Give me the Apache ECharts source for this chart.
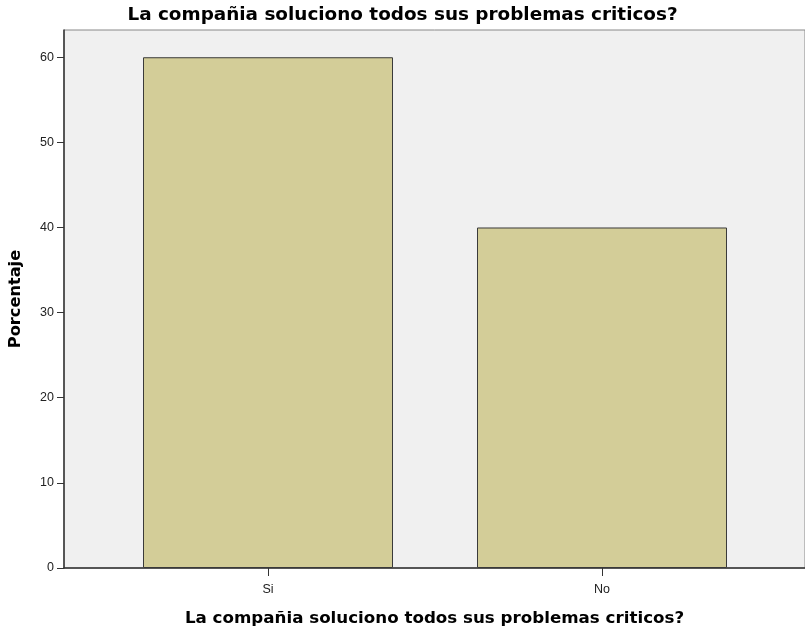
<!DOCTYPE html>
<html>
<head>
<meta charset="utf-8">
<script src="https://cdn.jsdelivr.net/npm/echarts@6/dist/echarts.min.js"></script>
<style>
  html, body { margin: 0; padding: 0; background: #fff; }
  #main { width: 805px; height: 629px; }
</style>
</head>
<body>
<div id="main"></div>
<script>
const categories = ['Si', 'No']
const percentages = [60, 40]
const yTicks = [0, 10, 20, 30, 40, 50, 60]
const titleText = 'La compañia soluciono todos sus problemas criticos?'

const font = '"Liberation Sans", Arial, sans-serif'
const boldFont = '"DejaVu Sans", sans-serif'
const myChart = echarts.init(document.getElementById('main'))
myChart.setOption({
  animation: false,
  title: {
    text: titleText,
    left: 'center',
    top: 1,
    textStyle: { fontFamily: boldFont, fontSize: 18.4, fontWeight: 'bold', color: '#000' }
  },
  grid: [
    {
      left: 64, right: 0, top: 30, bottom: 61,
      show: true, backgroundColor: '#f0f0f0', borderColor: '#888', borderWidth: 1,
      containLabel: false, outerBoundsMode: 'none'
    },
    {
      left: 101, width: 668, top: 30, bottom: 61,
      containLabel: false, outerBoundsMode: 'none'
    }
  ],
  xAxis: [
    {
      gridIndex: 0, type: 'value', min: 0, max: 1,
      axisLine: { show: true, lineStyle: { color: '#333', width: 1.5 } },
      axisTick: { show: false }, axisLabel: { show: false }, splitLine: { show: false },
      name: titleText, nameLocation: 'middle', nameGap: 42,
      nameTextStyle: { fontFamily: boldFont, fontSize: 16.7, fontWeight: 'bold', color: '#000' }
    },
    {
      gridIndex: 1, type: 'category', data: categories,
      axisLine: { show: false },
      axisTick: { show: true, alignWithLabel: true, length: 8, lineStyle: { color: '#333' } },
      axisLabel: { margin: 15, fontFamily: font, fontSize: 12.5, color: '#222' }
    }
  ],
  yAxis: [
    {
      gridIndex: 0, type: 'value', min: 0, max: 63.2,
      axisLine: { show: true, lineStyle: { color: '#333', width: 1.5 } },
      axisTick: { show: true, length: 7, customValues: yTicks, lineStyle: { color: '#333' } },
      axisLabel: { margin: 10, fontFamily: font, fontSize: 12.5, color: '#222', customValues: yTicks },
      splitLine: { show: false },
      name: 'Porcentaje', nameLocation: 'middle', nameGap: 40,
      nameTextStyle: { fontFamily: boldFont, fontSize: 16.2, fontWeight: 'bold', color: '#000' }
    },
    {
      gridIndex: 1, type: 'value', min: 0, max: 63.2, show: false
    }
  ],
  series: [
    {
      type: 'bar',
      xAxisIndex: 1,
      yAxisIndex: 1,
      data: percentages,
      barWidth: 250,
      itemStyle: { color: '#d3cd98', borderColor: '#3a3a3a', borderWidth: 1 }
    }
  ]
})
</script>
</body>
</html>
